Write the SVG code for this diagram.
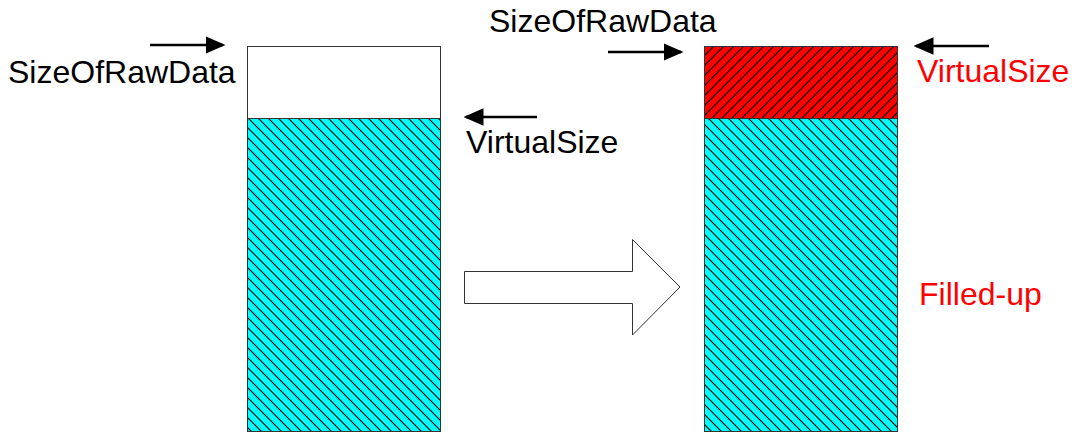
<svg xmlns="http://www.w3.org/2000/svg" width="1074" height="433" viewBox="0 0 1074 433">
  <style>
    .lbl { font-family: "Liberation Sans", Arial, sans-serif; font-size: 32px; fill: #000; }
    .red { fill: #ff0000; }
    .box { stroke: #333; stroke-width: 1; }
    .ptr { stroke: #000; stroke-width: 2.5; fill: none; marker-end: url(#head); }
  </style>
  <defs>
    <pattern id="hatchCyan" patternUnits="userSpaceOnUse" width="10" height="10">
      <rect width="10" height="10" fill="#00ffff"/>
      <path d="M0,0 L10,10 M-1,9 L1,11 M9,-1 L11,1" stroke="#000" stroke-width="1.2"/>
    </pattern>
    <pattern id="hatchRed" patternUnits="userSpaceOnUse" width="10" height="10">
      <rect width="10" height="10" fill="#ff0000"/>
      <path d="M0,10 L10,0 M-1,1 L1,-1 M9,11 L11,9" stroke="#000" stroke-width="1.2"/>
    </pattern>
    <marker id="head" markerWidth="8" markerHeight="7" refX="7" refY="3.5" orient="auto" markerUnits="strokeWidth">
      <path d="M0,0 L8,3.5 L0,7 Z" fill="#000"/>
    </marker>
  </defs>

  <!-- section before loading -->
  <g id="section-raw">
    <rect class="box" x="247.5" y="46.5" width="193" height="72" fill="#fff"/>
    <rect class="box" x="247.5" y="118.5" width="193" height="313" fill="url(#hatchCyan)"/>
  </g>

  <!-- section after loading -->
  <g id="section-virtual">
    <rect class="box" x="704.5" y="46.5" width="193" height="72" fill="url(#hatchRed)"/>
    <rect class="box" x="704.5" y="118.5" width="193" height="313" fill="url(#hatchCyan)"/>
  </g>

  <!-- transition arrow -->
  <g id="transition">
    <path d="M464.5,271.5 L632.5,271.5 L632.5,239.5 L680,287 L632.5,335 L632.5,303.5 L464.5,303.5 Z" fill="#fff" stroke="#333" stroke-width="1"/>
  </g>

  <g id="connectors">
    <line class="ptr" x1="150" y1="45" x2="223" y2="45"/>
    <line class="ptr" x1="537" y1="117" x2="466" y2="117"/>
    <line class="ptr" x1="608" y1="52" x2="681" y2="52"/>
    <line class="ptr" x1="989" y1="46" x2="916" y2="46"/>
  </g>

  <g id="labels">
    <text class="lbl" x="8" y="83">SizeOfRawData</text>
    <text class="lbl" x="466" y="153">VirtualSize</text>
    <text class="lbl" x="489" y="32">SizeOfRawData</text>
    <text class="lbl red" x="917" y="82">VirtualSize</text>
    <text class="lbl red" x="919" y="305">Filled-up</text>
  </g>
</svg>
